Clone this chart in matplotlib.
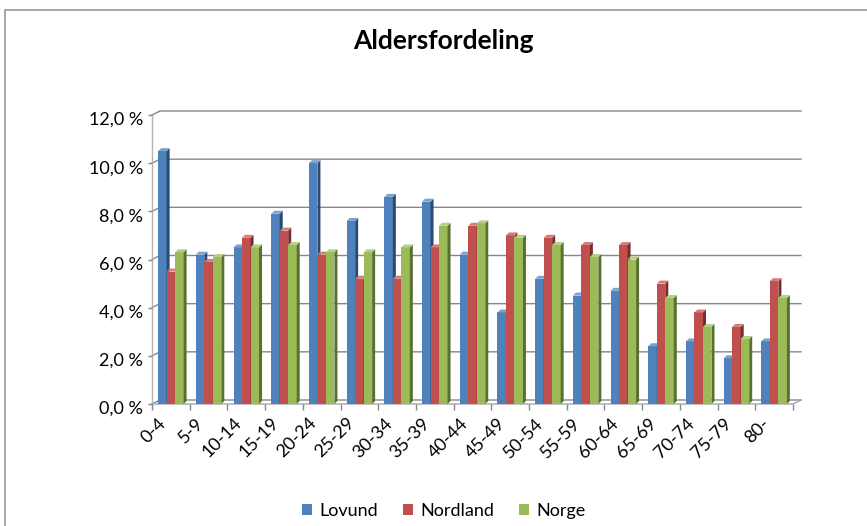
import numpy as np
import matplotlib
matplotlib.use('Agg')
import matplotlib.pyplot as plt
from matplotlib.patches import Polygon, Rectangle, Patch
from matplotlib.transforms import ScaledTranslation

plt.rcParams['font.family'] = ['Lato', 'DejaVu Sans']

# data (andel av befolkningen, %)
aldersgrupper = ['0-4', '5-9', '10-14', '15-19', '20-24', '25-29', '30-34', '35-39', '40-44',
                 '45-49', '50-54', '55-59', '60-64', '65-69', '70-74', '75-79', '80-']
lovund = [10.5, 6.2, 6.5, 7.9, 10.0, 7.6, 8.6, 8.4, 6.2, 3.8, 5.2, 4.5, 4.7, 2.4, 2.6, 1.9, 2.6]
nordland = [5.5, 5.9, 6.9, 7.2, 6.2, 5.2, 5.2, 6.5, 7.4, 7.0, 6.9, 6.6, 6.6, 5.0, 3.8, 3.2, 5.1]
norge = [6.3, 6.1, 6.5, 6.6, 6.3, 6.3, 6.5, 7.4, 7.5, 6.9, 6.6, 6.1, 6.0, 4.4, 3.2, 2.7, 4.4]
serier = ['Lovund', 'Nordland', 'Norge']
yticks = [0, 2, 4, 6, 8, 10, 12]

farger = ['#4f81bd', '#c0504d', '#9bbb59']
sider = ['#2a4a70', '#772c2a', '#5a7030']
topper = ['#7ea2d0', '#d47e7b', '#b6cf88']
grid = '#878787'

W, H = 867, 526
fig = plt.figure(figsize=(W / 100, H / 100), dpi=100)

# frontplanet i piksler
x0, x1 = 152, 793
y0, y1 = 404, 115
ax = fig.add_axes([x0 / W, 1 - y0 / H, (x1 - x0) / W, (y0 - y1) / H])
n = len(aldersgrupper)
ax.set_xlim(0, n)
ax.set_ylim(0, 12)
for s in ax.spines.values():
    s.set_visible(False)
ax.patch.set_alpha(0)

px_x = n / (x1 - x0)
px_y = 12 / (y0 - y1)
bx, by = 8 * px_x, 4 * px_y      # bakvegg
dx, dy = 3 * px_x, 3 * px_y      # dybde pa stolpene

# rutenett pa bakveggen
for v in yticks:
    ax.plot([0, bx, n + bx], [v, v + by, v + by], color=grid, lw=1, clip_on=False, zorder=0.5)
ax.plot([0, n, n + bx], [0, 0, by], color='#a6a6a6', lw=1, clip_on=False, zorder=0.5)
ax.plot([0, 0], [0, 12], color='#b4b4b4', lw=1, clip_on=False, zorder=0.5)

# stolper med 3D-effekt
bw = 8.5 * px_x
for k, verdier in enumerate([lovund, nordland, norge]):
    pos = np.arange(n) + 0.5 + (k - 1) * bw
    bars = ax.bar(pos, verdier, width=bw, color=farger[k], lw=0, zorder=2 + k)
    for b in bars:
        xl = b.get_x()
        xr = xl + b.get_width()
        h = b.get_height()
        ax.add_patch(Polygon([(xr, 0), (xr + dx, dy), (xr + dx, h + dy), (xr, h)],
                             facecolor=sider[k], lw=0, zorder=2 + k, clip_on=False))
        ax.add_patch(Polygon([(xl, h), (xr, h), (xr + dx, h + dy), (xl + dx, h + dy)],
                             facecolor=topper[k], lw=0, zorder=2 + k, clip_on=False))

# akser
ax.set_xticks(np.arange(n + 1))
ax.set_xticklabels([])
ax.set_yticks(yticks)
ax.set_yticklabels([])
ax.tick_params(axis='x', length=4, color=grid, width=1)
ax.tick_params(axis='y', length=3, color=grid, width=1)

yoff = ax.transData + ScaledTranslation(-9 / 100, -10 / 100, fig.dpi_scale_trans)
for v in yticks:
    ax.text(0, v, f'{v:.1f}'.replace('.', ',') + ' %', transform=yoff,
            ha='right', va='baseline', fontsize=13, color='black')

xoff = ax.transData + ScaledTranslation(-13 / 100, -11 / 100, fig.dpi_scale_trans)
for i, lab in enumerate(aldersgrupper):
    ax.text(i + 0.5, 0, lab, transform=xoff, rotation=45, rotation_mode='anchor',
            ha='right', va='top', fontsize=13, color='black')

fig.text(443 / W, 1 - 49 / H, 'Aldersfordeling', ha='center', va='baseline',
         fontsize=19, fontweight='bold')

handles = [Patch(facecolor=c, lw=0) for c in farger]
fig.legend(handles, serier, loc='center', bbox_to_anchor=(444 / W, 1 - 511 / H), ncol=3,
           frameon=False, fontsize=13, handlelength=0.55, handleheight=0.55,
           handletextpad=0.4, columnspacing=1.4)

# ramme rundt diagrammet
fig.add_artist(Rectangle((5 / W, -0.1), 2, 1.1 - 10 / H, transform=fig.transFigure,
                         fill=False, edgecolor='#a0a0a0', lw=1.3))

fig.savefig('out.png', dpi=100)
